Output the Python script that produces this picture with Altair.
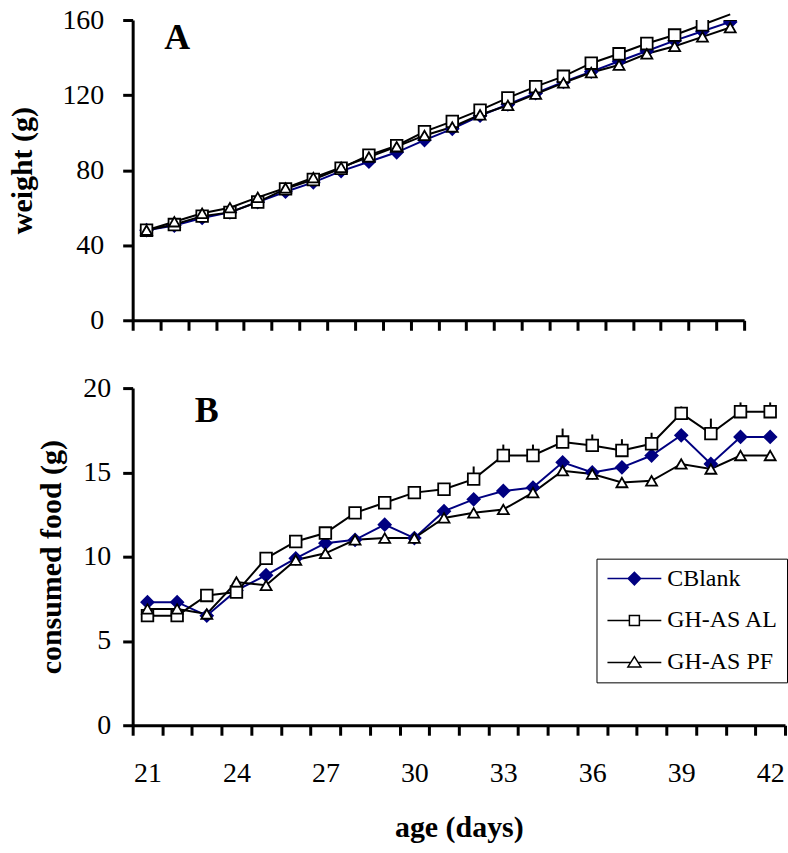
import altair as alt
import pandas as pd

FONT = "Liberation Serif"

# ---------------- data ----------------
days = [21, 22, 23, 24, 25, 26, 27, 28, 29, 30, 31,
        32, 33, 34, 35, 36, 37, 38, 39, 40, 41, 42]
series_names = ["CBlank", "GH-AS AL", "GH-AS PF"]

weight_cblank = [48, 50.5, 54.5, 57.5, 63, 68.5, 73.5, 79.5, 84.5, 89.5, 96,
                 102, 109, 115, 121, 127, 132.5, 138, 143.5, 149, 154, 159]
weight_al = [48, 51, 55.5, 57.5, 63, 70, 75, 81, 88, 93, 100.5,
             106, 112, 118.5, 124.5, 130, 137, 142, 147.5, 152, 157.5, 163]
weight_pf = [48, 52.5, 57, 60, 65.5, 70.5, 76, 81.5, 87, 92.5, 98.5,
             103, 109.5, 114.5, 120.5, 126.5, 132, 136, 142, 146, 151, 156]

food_cblank = [7.3, 7.3, 6.5, 8.0, 8.9, 9.9, 10.8, 11.0, 11.9, 11.1, 12.7,
               13.4, 13.9, 14.1, 15.6, 15.0, 15.3, 16.0, 17.2, 15.5, 17.1, 17.1]
food_al = [6.5, 6.5, 7.7, 7.9, 9.9, 10.9, 11.4, 12.6, 13.2, 13.8, 14.0,
           14.6, 16.0, 16.0, 16.8, 16.6, 16.3, 16.7, 18.5, 17.3, 18.6, 18.6]
food_al_err = [0.1, 0.1, 0.1, 0.1, 0.2, 0.2, 0.2, 0.3, 0.36, 0.36, 0.36,
               0.75, 0.65, 0.65, 0.8, 0.65, 0.67, 0.65, 0.41, 0.89, 0.55, 0.55]
food_pf = [6.9, 6.9, 6.6, 8.5, 8.3, 9.8, 10.2, 11.0, 11.1, 11.1, 12.3,
           12.6, 12.8, 13.8, 15.1, 14.9, 14.4, 14.5, 15.5, 15.2, 16.0, 16.0]

x_tick_values = [20.5, 21.5, 22.5, 23.5, 24.5, 25.5, 26.5, 27.5, 28.5, 29.5, 30.5, 31.5,
                 32.5, 33.5, 34.5, 35.5, 36.5, 37.5, 38.5, 39.5, 40.5, 41.5, 42.5]
x_label_values = [21, 24, 27, 30, 33, 36, 39, 42]
weight_ticks = [0, 40, 80, 120, 160]
food_ticks = [0, 5, 10, 15, 20]

panel_letters = ["A", "B"]
letter_day = [22.1, 23.0]
letter_value = [144.5, 18.0]

line_colors = ["#000080", "#000000", "#000000"]
marker_fills = ["#000080", "#ffffff", "#ffffff"]
marker_shapes = ["diamond", "square", "triangle-up"]
marker_sizes = [150, 121, 175]


def long_frame(value_lists, err=None):
    rows = []
    for s, vals in zip(series_names, value_lists):
        for i, (d, v) in enumerate(zip(days, vals)):
            row = {"day": d, "value": v, "series": s}
            if err is not None:
                e = err[i] if s == "GH-AS AL" else 0
                row["hi"] = v + e
            rows.append(row)
    return pd.DataFrame(rows)


wdf = long_frame([weight_cblank, weight_al, weight_pf])
fdf = long_frame([food_cblank, food_al, food_pf], err=food_al_err)
err_df = fdf[fdf["series"] == "GH-AS AL"]
letter_df = pd.DataFrame({"letter": panel_letters, "day": letter_day, "value": letter_value})

color_scale = alt.Scale(domain=series_names, range=line_colors)
fill_scale = alt.Scale(domain=series_names, range=marker_fills)
shape_scale = alt.Scale(domain=series_names, range=marker_shapes)
size_scale = alt.Scale(domain=series_names, range=marker_sizes)

AXIS_COMMON = dict(grid=False, domainColor="black", tickColor="black",
                   domainWidth=3, tickWidth=3, tickSize=10,
                   labelFont=FONT, labelFontSize=28, labelColor="black",
                   titleFont=FONT, titleFontSize=30, titleFontWeight="bold",
                   titleColor="black")

# ---------------- panel A ----------------
x_top = alt.X("day:Q", scale=alt.Scale(domain=[20.5, 42.5], nice=False, zero=False),
              axis=alt.Axis(values=x_tick_values, labels=False, title=None,
                            orient="bottom", **AXIS_COMMON))
y_top = alt.Y("value:Q", scale=alt.Scale(domain=[0, 160], nice=False),
              axis=alt.Axis(values=weight_ticks, title="weight (g)", labelPadding=19,
                            titleX=-95, **AXIS_COMMON))

top_lines = alt.Chart(wdf).mark_line(strokeWidth=2).encode(
    x=x_top, y=y_top,
    color=alt.Color("series:N", scale=color_scale, legend=None),
    detail="series:N",
)
top_points = alt.Chart(wdf).mark_point(strokeWidth=1.8, opacity=1, clip=True).encode(
    x=x_top, y=y_top,
    shape=alt.Shape("series:N", scale=shape_scale, legend=None),
    fill=alt.Fill("series:N", scale=fill_scale, legend=None),
    stroke=alt.Stroke("series:N", scale=color_scale, legend=None),
    size=alt.Size("series:N", scale=size_scale, legend=None),
)
top_letter = alt.Chart(letter_df[letter_df["letter"] == "A"]).mark_text(
    font=FONT, fontSize=36, fontWeight="bold", align="center", baseline="alphabetic", color="black"
).encode(x=x_top, y=y_top, text="letter:N")

top = alt.layer(top_lines, top_points, top_letter).properties(width=613, height=301)

# ---------------- panel B ----------------
bx_scale = alt.Scale(domain=[20.5, 42.5], nice=False, zero=False)
by_scale = alt.Scale(domain=[0, 20], nice=False)
y_bot_axis = alt.Axis(values=food_ticks, title="consumed food (g)", labelPadding=12,
                      titleX=-66, **AXIS_COMMON)

# legend symbols: marker with the series line through it
path_cblank = "M-5.4,0H5.4M-1.25,0L0,-1.25L1.25,0L0,1.25Z"
path_al = "M-5.4,0H-1M1,0H5.4M-1,-1H1V1H-1Z"
path_pf = "M-5.4,0H-0.7M0.7,0H5.4M0,-1.15L1.3,0.9L-1.3,0.9Z"
legend_shapes = [path_cblank, path_al, path_pf]

legend = alt.Legend(
    title=None, orient="none", legendX=465, legendY=171,
    strokeColor="black", fillColor="white", padding=8,
    labelFont=FONT, labelFontSize=24, labelColor="black",
    symbolSize=100, symbolStrokeWidth=1.5, symbolOffset=18, labelOffset=21,
    symbolOpacity=1, rowPadding=18,
)

bot_lines = alt.Chart(fdf).mark_line(strokeWidth=2).encode(
    x=alt.X("day:Q", scale=bx_scale,
            axis=alt.Axis(values=x_tick_values, labels=False, title=None,
                          orient="bottom", **AXIS_COMMON)),
    y=alt.Y("value:Q", scale=by_scale, axis=y_bot_axis),
    color=alt.Color("series:N", scale=color_scale, legend=None),
    detail="series:N",
)
bot_err = alt.Chart(err_df).mark_rule(strokeWidth=2, color="black").encode(
    x=alt.X("day:Q", scale=bx_scale, axis=None),
    y=alt.Y("value:Q", scale=by_scale, axis=y_bot_axis),
    y2="hi:Q",
)
label_axis = dict(AXIS_COMMON)
label_axis.update(tickSize=0, domain=False)
bot_points = alt.Chart(fdf).mark_point(strokeWidth=1.8, opacity=1).encode(
    x=alt.X("day:Q", scale=bx_scale,
            axis=alt.Axis(values=x_label_values, ticks=False, labelPadding=34,
                          title="age (days)", titleY=112, titleBaseline="alphabetic",
                          orient="bottom", **label_axis)),
    y=alt.Y("value:Q", scale=by_scale, axis=y_bot_axis),
    shape=alt.Shape("series:N", scale=shape_scale, legend=None),
    fill=alt.Fill("series:N", scale=fill_scale, legend=None),
    stroke=alt.Stroke("series:N", scale=color_scale, legend=None),
    size=alt.Size("series:N", scale=size_scale, legend=None),
)
legend_layer = alt.Chart(fdf).mark_point(opacity=0, strokeWidth=1.5).encode(
    x=alt.X("day:Q", scale=bx_scale, axis=None),
    y=alt.Y("value:Q", scale=by_scale, axis=y_bot_axis),
    shape=alt.Shape("series:N", scale=alt.Scale(domain=series_names, range=legend_shapes),
                    legend=legend),
    fill=alt.Fill("series:N", scale=alt.Scale(domain=series_names, range=marker_fills),
                  legend=legend),
    stroke=alt.Stroke("series:N", scale=alt.Scale(domain=series_names, range=line_colors),
                      legend=legend),
)
bot_letter = alt.Chart(letter_df[letter_df["letter"] == "B"]).mark_text(
    font=FONT, fontSize=36, fontWeight="bold", align="center", baseline="alphabetic", color="black"
).encode(x=alt.X("day:Q", scale=bx_scale, axis=None),
         y=alt.Y("value:Q", scale=by_scale, axis=y_bot_axis), text="letter:N")

bottom = alt.layer(bot_lines, bot_err, bot_points, legend_layer, bot_letter).resolve_axis(
    x="independent").resolve_scale(shape="independent", fill="independent",
                                   stroke="independent").properties(width=654, height=338)

chart = alt.vconcat(top, bottom, spacing=68, bounds="flush").properties(
    padding={"left": 7, "top": 5, "right": 0, "bottom": 5},
    background="white",
).configure_view(stroke=None)

chart.save("out.html", embed_options={"renderer": "svg", "actions": False})
